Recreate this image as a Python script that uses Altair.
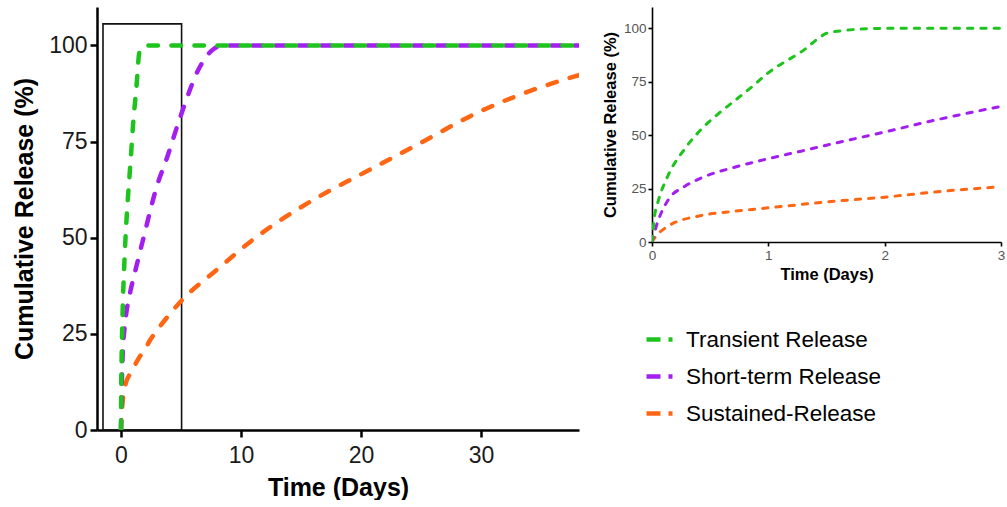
import altair as alt
import pandas as pd

# Release profiles (cumulative % released vs. time in days)
series_names = ["Transient Release", "Short-term Release", "Sustained-Release"]
series_colors = ["#1ec31e", "#a21ff0", "#ff6614"]

transient_days = [0, 0.023, 0.05, 0.137, 0.28, 0.424, 0.567, 0.71, 0.853, 1.0, 1.28, 1.54, 2.0, 3.0, 38.17]
transient_release = [0, 12.5, 18.5, 31, 43.5, 52.8, 59.9, 66.1, 72.4, 79.2, 88.9, 98.3, 100, 100, 100]

short_days = [0, 0.037, 0.137, 0.28, 0.424, 0.71, 1.0, 1.28, 1.57, 2.0, 2.43, 3.0, 3.8, 4.9, 6.6, 7.2, 7.7, 8.5, 38.17]
short_release = [0, 7.4, 19.5, 26.0, 30.0, 35.0, 39.0, 42.5, 46.2, 51.5, 57, 63.5, 70.5, 81, 94.6, 97.5, 99, 100, 100]

sustained_days = [0, 0.023, 0.137, 0.424, 0.71, 1.0, 1.57, 2.0, 2.43, 3.0, 5, 8, 11, 16, 20, 24.4, 29.9, 35.5, 38.17]
sustained_release = [0, 1.9, 7.4, 12.4, 14.4, 16, 19.1, 21, 23.4, 25.9, 33.5, 41.7, 49.5, 59.8, 66.5, 73.7, 82.8, 89.7, 92.3]

# Zoom window outlined on the main plot (days, % release)
box_days = [-1.5, 5.05]
box_release = [0, 105.6]

main_ticks_x = [0, 10, 20, 30]
inset_ticks_x = [0, 1, 2, 3]
ticks_y = [0, 25, 50, 75, 100]

FONT = "Liberation Sans"

rows = []
for name, days, vals in [
    (series_names[0], transient_days, transient_release),
    (series_names[1], short_days, short_release),
    (series_names[2], sustained_days, sustained_release),
]:
    for d, v in zip(days, vals):
        rows.append({"series": name, "day": d, "release": v})
df = pd.DataFrame(rows)

box_df = pd.DataFrame({"x": [box_days[0]], "x2": [box_days[1]],
                       "y": [box_release[0]], "y2": [box_release[1]]})

color_scale = alt.Scale(domain=series_names, range=series_colors)

legend = alt.Legend(
    orient="none", legendX=547, legendY=317, title=None,
    symbolType="stroke", symbolSize=676, symbolStrokeWidth=4.5,
    symbolDash=[14, 8], labelFont=FONT, labelFontSize=22.5,
    labelColor="black", labelOffset=11, rowPadding=10,
    direction="vertical", labelLimit=400,
)


def axis_main(values, title, is_x):
    return alt.Axis(
        values=values, title=title, grid=False,
        labelFont=FONT, labelFontSize=23, labelColor="#1a1a1a",
        titleFont=FONT, titleFontSize=25, titleFontWeight="bold", titleColor="black",
        tickSize=7, tickWidth=2.5, tickColor="black",
        domainWidth=2.5, domainColor="black", labelFlush=False,
        labelPadding=7 if is_x else 3, titlePadding=8 if is_x else 11,
    )


def axis_inset(values, title, is_x):
    return alt.Axis(
        values=values, title=title, grid=False,
        labelFont=FONT, labelFontSize=13.5, labelColor="#555555",
        titleFont=FONT, titleFontSize=16.5, titleFontWeight="bold", titleColor="black",
        tickSize=4, tickWidth=1.6, tickColor="black",
        domainWidth=1.6, domainColor="black", labelFlush=False,
        labelPadding=2, titlePadding=5,
    )


def lines(data_chart, x_enc, y_enc, width, dash, with_legend):
    layers = []
    # drawn bottom to top: sustained, short-term, transient
    for i, name in enumerate(reversed(series_names)):
        layers.append(
            data_chart.transform_filter(alt.datum.series == name)
            .mark_line(strokeWidth=width, strokeDash=dash, strokeCap="round",
                       interpolate="monotone", clip=True)
            .encode(
                x=x_enc, y=y_enc,
                color=alt.Color("series:N", scale=color_scale,
                                legend=legend if (with_legend and i == 0) else None),
            )
        )
    return layers


base = alt.Chart(df)

main_x = alt.X("day:Q", scale=alt.Scale(domain=[-2, 38.17], nice=False, zero=False),
               axis=axis_main(main_ticks_x, "Time (Days)", True))
main_y = alt.Y("release:Q", scale=alt.Scale(domain=[0, 110], nice=False),
               axis=axis_main(ticks_y, "Cumulative Release (%)", False))

box = alt.Chart(box_df).mark_rect(fill=None, stroke="#111111", strokeWidth=1.6).encode(
    x="x:Q", x2="x2:Q", y="y:Q", y2="y2:Q"
)

main = alt.layer(
    box, *lines(base, main_x, main_y, 4.5, [9.5, 13.5], True)
).properties(width=482, height=423)

inset_base = alt.Chart(df).transform_filter(alt.datum.day <= 3)
inset_x = alt.X("day:Q", scale=alt.Scale(domain=[0, 3], nice=False),
                axis=axis_inset(inset_ticks_x, "Time (Days)", True))
inset_y = alt.Y("release:Q", scale=alt.Scale(domain=[0, 110], nice=False),
                axis=axis_inset(ticks_y, "Cumulative Release (%)", False))

inset = alt.layer(
    *lines(inset_base, inset_x, inset_y, 3, [5.3, 8], False)
).properties(width=349, height=235)

chart = (
    alt.hconcat(main, inset, spacing=23)
    .resolve_scale(color="shared")
    .properties(padding={"left": 12, "top": 7, "right": 0, "bottom": 0}, background="white")
    .configure_view(stroke=None)
)

chart.save("out.html", embed_options={"renderer": "svg", "actions": False})
